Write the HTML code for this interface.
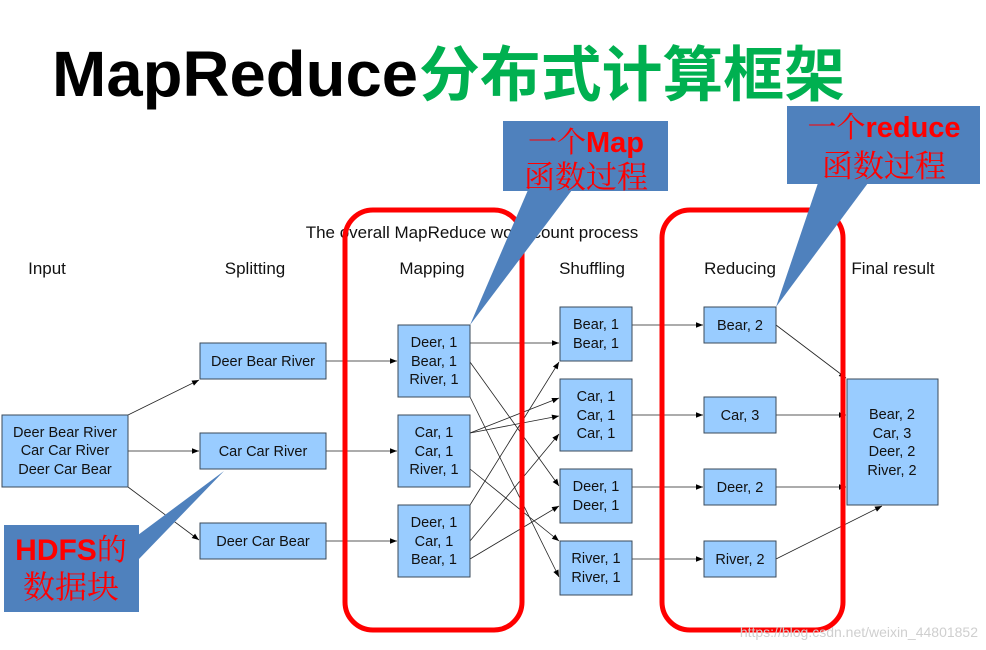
<!DOCTYPE html>
<html><head><meta charset="utf-8"><style>
html,body{margin:0;padding:0;background:#fff;width:986px;height:650px;overflow:hidden}
svg{display:block}
.d{font-family:"Liberation Sans",sans-serif;font-size:14.5px;fill:#111;text-anchor:middle}
.h{font-family:"Liberation Sans",sans-serif;font-size:17px;fill:#111;text-anchor:middle}
.b{fill:#99ccff;stroke:#3a4a5a;stroke-width:1}
.l{stroke:#222;stroke-width:0.8;fill:none}
.cj{font-family:"Liberation Serif","Noto Serif CJK SC",serif;fill:#ff0000;text-anchor:middle}
</style></head><body>
<svg width="986" height="650" viewBox="0 0 986 650" xmlns="http://www.w3.org/2000/svg">
<defs><marker id="a" viewBox="0 0 10 10" refX="10" refY="5" markerWidth="9" markerHeight="7" orient="auto" markerUnits="userSpaceOnUse"><path d="M0,1 L10,5 L0,9 z" fill="#000"/></marker></defs>
<text x="52" y="96" font-family="Liberation Sans,sans-serif" font-weight="bold" font-size="64" textLength="366" lengthAdjust="spacingAndGlyphs" fill="#000">MapReduce</text>
<text x="419" y="96" font-family="Noto Sans CJK SC,sans-serif" font-weight="bold" font-size="60" textLength="426" lengthAdjust="spacingAndGlyphs" fill="#00b050">分布式计算框架</text>

<text x="472" y="238" class="h">The overall MapReduce word count process</text>
<text x="47" y="274" class="h">Input</text>
<text x="255" y="274" class="h">Splitting</text>
<text x="432" y="274" class="h">Mapping</text>
<text x="592" y="274" class="h">Shuffling</text>
<text x="740" y="274" class="h">Reducing</text>
<text x="893" y="274" class="h">Final result</text>

<!-- lines -->
<g class="l" marker-end="url(#a)">
<line x1="128" y1="415" x2="199" y2="380"/>
<line x1="128" y1="451" x2="199" y2="451"/>
<line x1="128" y1="487" x2="199" y2="540"/>
<line x1="326" y1="361" x2="397" y2="361"/>
<line x1="326" y1="451" x2="397" y2="451"/>
<line x1="326" y1="541" x2="397" y2="541"/>
<line x1="470" y1="343" x2="559" y2="343"/>
<line x1="470" y1="362" x2="559" y2="486"/>
<line x1="470" y1="397" x2="559" y2="577"/>
<line x1="470" y1="433" x2="559" y2="398"/>
<line x1="470" y1="433" x2="559" y2="416"/>
<line x1="470" y1="469" x2="559" y2="541"/>
<line x1="470" y1="505" x2="559" y2="362"/>
<line x1="470" y1="541" x2="559" y2="434"/>
<line x1="470" y1="559" x2="559" y2="506"/>
<line x1="632" y1="325" x2="703" y2="325"/>
<line x1="632" y1="415" x2="703" y2="415"/>
<line x1="632" y1="487" x2="703" y2="487"/>
<line x1="632" y1="559" x2="703" y2="559"/>
<line x1="776" y1="325" x2="846" y2="378"/>
<line x1="776" y1="415" x2="846" y2="415"/>
<line x1="776" y1="487" x2="846" y2="487"/>
<line x1="776" y1="559" x2="882" y2="506"/>
</g>

<!-- boxes -->
<rect class="b" x="2" y="415" width="126" height="72"/>
<text class="d" x="65" y="437">Deer Bear River</text><text class="d" x="65" y="455">Car Car River</text><text class="d" x="65" y="474">Deer Car Bear</text>
<rect class="b" x="200" y="343" width="126" height="36"/><text class="d" x="263" y="366">Deer Bear River</text>
<rect class="b" x="200" y="433" width="126" height="36"/><text class="d" x="263" y="456">Car Car River</text>
<rect class="b" x="200" y="523" width="126" height="36"/><text class="d" x="263" y="546">Deer Car Bear</text>

<rect class="b" x="398" y="325" width="72" height="72"/>
<text class="d" x="434" y="347">Deer, 1</text><text class="d" x="434" y="366">Bear, 1</text><text class="d" x="434" y="384">River, 1</text>
<rect class="b" x="398" y="415" width="72" height="72"/>
<text class="d" x="434" y="437">Car, 1</text><text class="d" x="434" y="456">Car, 1</text><text class="d" x="434" y="474">River, 1</text>
<rect class="b" x="398" y="505" width="72" height="72"/>
<text class="d" x="434" y="527">Deer, 1</text><text class="d" x="434" y="546">Car, 1</text><text class="d" x="434" y="564">Bear, 1</text>

<rect class="b" x="560" y="307" width="72" height="54"/>
<text class="d" x="596" y="329">Bear, 1</text><text class="d" x="596" y="348">Bear, 1</text>
<rect class="b" x="560" y="379" width="72" height="72"/>
<text class="d" x="596" y="401">Car, 1</text><text class="d" x="596" y="420">Car, 1</text><text class="d" x="596" y="438">Car, 1</text>
<rect class="b" x="560" y="469" width="72" height="54"/>
<text class="d" x="596" y="491">Deer, 1</text><text class="d" x="596" y="510">Deer, 1</text>
<rect class="b" x="560" y="541" width="72" height="54"/>
<text class="d" x="596" y="563">River, 1</text><text class="d" x="596" y="582">River, 1</text>

<rect class="b" x="704" y="307" width="72" height="36"/><text class="d" x="740" y="330">Bear, 2</text>
<rect class="b" x="704" y="397" width="72" height="36"/><text class="d" x="740" y="420">Car, 3</text>
<rect class="b" x="704" y="469" width="72" height="36"/><text class="d" x="740" y="492">Deer, 2</text>
<rect class="b" x="704" y="541" width="72" height="36"/><text class="d" x="740" y="564">River, 2</text>

<rect class="b" x="847" y="379" width="91" height="126"/>
<text class="d" x="892" y="419">Bear, 2</text><text class="d" x="892" y="438">Car, 3</text><text class="d" x="892" y="456">Deer, 2</text><text class="d" x="892" y="475">River, 2</text>

<!-- red frames -->
<rect x="345" y="210" width="177" height="420" rx="28" fill="none" stroke="#ff0000" stroke-width="5"/>
<rect x="662" y="210" width="181" height="420" rx="28" fill="none" stroke="#ff0000" stroke-width="5"/>

<!-- callouts -->
<g fill="#4f81bd">
<polygon points="528,190 572,190 470,325"/>
<rect x="503" y="121" width="165" height="70"/>
<polygon points="818,183 868,183 776,307"/>
<rect x="787" y="106" width="193" height="78"/>
<polygon points="138,535 138,560 224,471"/>
<rect x="4" y="525" width="135" height="87"/>
</g>
<text class="cj" x="586" y="152" font-size="29">一个<tspan font-family="Liberation Sans,sans-serif" font-weight="bold">Map</tspan></text>
<text class="cj" x="586" y="188" font-size="31">函数过程</text>
<text class="cj" x="884" y="137" font-size="29">一个<tspan font-family="Liberation Sans,sans-serif" font-weight="bold">reduce</tspan></text>
<text class="cj" x="884" y="177" font-size="31">函数过程</text>
<text class="cj" x="71" y="560" font-size="30"><tspan font-family="Liberation Sans,sans-serif" font-weight="bold">HDFS</tspan>的</text>
<text class="cj" x="71" y="598" font-size="32">数据块</text>

<text x="978" y="637" font-family="Liberation Sans,sans-serif" font-size="14" fill="#cfcfcf" text-anchor="end">https://blog.csdn.net/weixin_44801852</text>
</svg>
</body></html>
